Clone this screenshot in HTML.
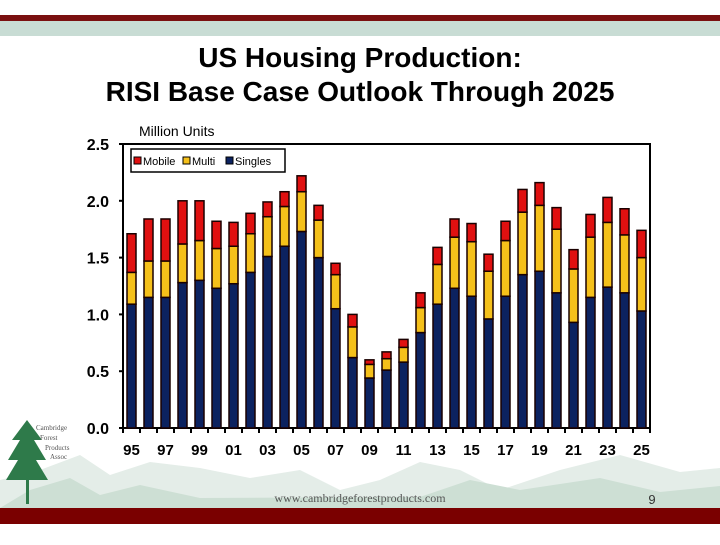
<!DOCTYPE html>
<html><head><meta charset="utf-8"><style>
body{margin:0;width:720px;height:540px;overflow:hidden;background:#fff;font-family:"Liberation Sans",sans-serif}
</style></head><body>
<svg width="720" height="540" xmlns="http://www.w3.org/2000/svg">
<rect x="0" y="15" width="720" height="6" fill="#7a1010"/>
<rect x="0" y="21" width="720" height="15" fill="#c8dcd4"/>
<g>
<path d="M0,508 L0,480 L40,470 L80,455 L110,475 L150,462 L200,468 L250,478 L300,470 L340,490 L380,480 L420,462 L460,470 L500,490 L560,470 L620,455 L680,472 L720,468 L720,508 Z" fill="#e4ede8"/>
<path d="M0,508 L30,490 L70,478 L100,495 L140,485 L200,498 L420,497 L470,480 L520,490 L600,478 L660,492 L720,486 L720,508 Z" fill="#cddfd4"/>
</g>
<rect x="0" y="508" width="720" height="16" fill="#7a0000"/>
<text x="360" y="502" text-anchor="middle" font-family="Liberation Serif" font-size="12" fill="#555">www.cambridgeforestproducts.com</text>
<text x="652" y="504" text-anchor="middle" font-size="13" fill="#333">9</text>
<g>
<rect x="26" y="440" width="3" height="64" fill="#2e7a4a"/>
<path d="M27,420 L12,440 L20,440 L8,460 L18,460 L6,480 L48,480 L36,460 L46,460 L34,440 L42,440 Z" fill="#2e7a4a"/>
<text x="36" y="430" font-family="Liberation Serif" font-size="7" fill="#555">Cambridge</text>
<text x="40" y="440" font-family="Liberation Serif" font-size="7" fill="#555">Forest</text>
<text x="45" y="450" font-family="Liberation Serif" font-size="7" fill="#555">Products</text>
<text x="50" y="459" font-family="Liberation Serif" font-size="7" fill="#555">Assoc</text>
</g>
<text x="360" y="67" text-anchor="middle" font-size="28" font-weight="bold">US Housing Production:</text>
<text x="360" y="101" text-anchor="middle" font-size="28" font-weight="bold">RISI Base Case Outlook Through 2025</text>
<text x="139" y="136" font-size="14">Million Units</text>
<g id="chart"></g>
<g>
<rect x="131" y="149" width="154" height="23" fill="#fff" stroke="#000" stroke-width="1.5"/>
<rect x="134" y="157" width="7" height="7" fill="#e01010" stroke="#000"/>
<text x="143" y="165" font-size="11">Mobile</text>
<rect x="183" y="157" width="7" height="7" fill="#f5c01a" stroke="#000"/>
<text x="192" y="165" font-size="11">Multi</text>
<rect x="226" y="157" width="7" height="7" fill="#0c2260" stroke="#000"/>
<text x="235" y="165" font-size="11">Singles</text>
</g>
</svg>
<script>
const years=[1995,1996,1997,1998,1999,2000,2001,2002,2003,2004,2005,2006,2007,2008,2009,2010,2011,2012,2013,2014,2015,2016,2017,2018,2019,2020,2021,2022,2023,2024,2025];
const singles=[1.09,1.15,1.15,1.28,1.30,1.23,1.27,1.37,1.51,1.60,1.73,1.50,1.05,0.62,0.44,0.51,0.58,0.84,1.09,1.23,1.16,0.96,1.16,1.35,1.38,1.19,0.93,1.15,1.24,1.19,1.03];
const multi=[0.28,0.32,0.32,0.34,0.35,0.35,0.33,0.34,0.35,0.35,0.35,0.33,0.30,0.27,0.12,0.10,0.13,0.22,0.35,0.45,0.48,0.42,0.49,0.55,0.58,0.56,0.47,0.53,0.57,0.51,0.47];
const mobile=[0.34,0.37,0.37,0.38,0.35,0.24,0.21,0.18,0.13,0.13,0.14,0.13,0.10,0.11,0.04,0.06,0.07,0.13,0.15,0.16,0.16,0.15,0.17,0.20,0.20,0.19,0.17,0.20,0.22,0.23,0.24];
const yTicks=[0,0.5,1.0,1.5,2.0,2.5];
const NS='http://www.w3.org/2000/svg';
const g=document.getElementById('chart');
const X0=123,X1=650,Y0=428,YT=144;
const yS=v=>Y0-v/2.5*(Y0-YT);
const slot=(X1-X0)/years.length;
const xS=i=>X0+slot*(i+0.5);
function mk(t,a){const e=document.createElementNS(NS,t);for(const k in a)e.setAttribute(k,a[k]);g.appendChild(e);return e;}
let ax=mk('path',{d:`M${X0},${YT} L${X0},${Y0} L${X1},${Y0} L${X1},${YT} L${X0},${YT}`,fill:'none',stroke:'#000','stroke-width':2});


yTicks.forEach(v=>{
 const t=mk('line',{x1:X0-4,x2:X0,y1:yS(v),y2:yS(v),stroke:'#000','stroke-width':2});
 
 
 const l=mk('text',{x:X0-14,y:yS(v)+6,'text-anchor':'end','font-size':16,'font-weight':'bold'});
 l.textContent=v.toFixed(1);
 
 
});
for(let i=0;i<=years.length;i++){
 const t=mk('line',{x1:X0+slot*i,x2:X0+slot*i,y1:Y0,y2:Y0+5,stroke:'#000','stroke-width':2});
 
 
}
const bw=9;
years.forEach((yr,i)=>{
 const x=xS(i)-bw/2;
 const segs=[[0,singles[i],'#0c2260','singles'],[singles[i],singles[i]+multi[i],'#f5c01a','multi'],[singles[i]+multi[i],singles[i]+multi[i]+mobile[i],'#e01010','mobile']];
 segs.forEach(s=>{
  const r=mk('rect',{x:x,y:yS(s[1]),width:bw,height:yS(s[0])-yS(s[1]),fill:s[2],stroke:'#1a0000','stroke-width':1.5});
  
  
 });
 if(i%2===0){
  const l=mk('text',{x:xS(i),y:455,'text-anchor':'middle','font-size':15,'font-weight':'bold'});
  l.textContent=String(yr).slice(2);
  
  
 }
});
</script>
</body></html>
